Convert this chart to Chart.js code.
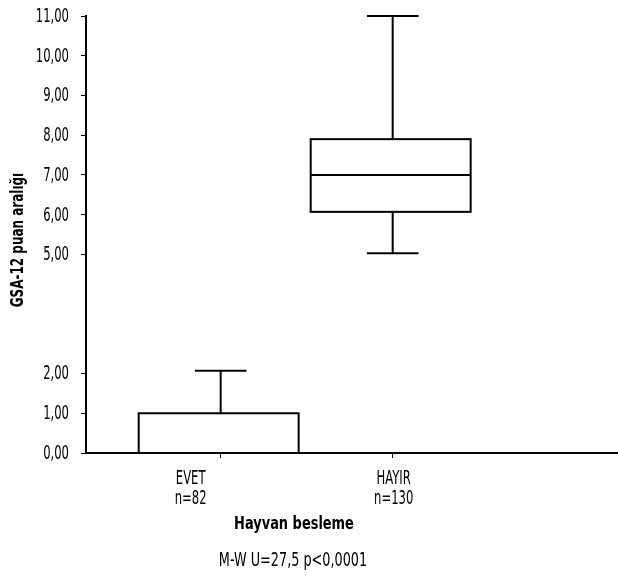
<!DOCTYPE html>
<html lang="tr">
<head>
<meta charset="UTF-8">
<title>GSA-12 puan aralığı</title>
<script src="https://cdn.jsdelivr.net/npm/chart.js"></script>
<style>
  body { margin: 0; background: #fff; }
</style>
</head>
<body>
<canvas id="boxChart" width="618" height="577"></canvas>
<script>
// values
const groups = ['EVET', 'HAYIR'];
const groupN = ['n=82', 'n=130'];
const groupPos = [1, 2];
const whiskerLow = [0, 5.03];
const boxQ1 = [0, 6.07];
const boxMedian = [0, 7.0];
const boxQ3 = [1.0, 7.9];
const whiskerHigh = [2.07, 11.0];
const yTicks = [0, 1, 2, 5, 6, 7, 8, 9, 10, 11];
const xTitle = 'Hayvan besleme';
const yTitle = 'GSA-12 puan aralığı';
const note = 'M-W U=27,5 p<0,0001';

const FONT = '"DejaVu Sans Condensed", "DejaVu Sans", sans-serif';
const fmt = v => v.toFixed(2).replace('.', ',');

// the original uses a very narrow typeface, so squeeze text horizontally
function narrowText(ctx, text, x, y, squeeze) {
  ctx.save();
  ctx.translate(x, y);
  ctx.scale(squeeze, 1);
  ctx.fillText(text, 0, 0);
  ctx.restore();
}

// draws the boxes and whiskers through the chart scales
const boxPlot = {
  id: 'boxPlot',
  afterDatasetsDraw(chart) {
    const { ctx, scales: { x, y } } = chart;
    ctx.save();
    ctx.strokeStyle = '#000';
    ctx.lineWidth = 2;
    groupPos.forEach((pos, i) => {
      const cx = x.getPixelForValue(pos);
      const half = x.getPixelForValue(pos + 0.465) - cx;
      const cap = x.getPixelForValue(pos + 0.15) - cx;
      const yLow = y.getPixelForValue(whiskerLow[i]);
      const yQ1 = y.getPixelForValue(boxQ1[i]);
      const yMed = y.getPixelForValue(boxMedian[i]);
      const yQ3 = y.getPixelForValue(boxQ3[i]);
      const yHigh = y.getPixelForValue(whiskerHigh[i]);

      ctx.strokeRect(cx - half - 2, yQ3, half * 2, yQ1 - yQ3);
      ctx.beginPath();
      ctx.moveTo(cx - half - 2, yMed); ctx.lineTo(cx + half - 2, yMed);
      // upper whisker
      ctx.moveTo(cx, yQ3); ctx.lineTo(cx, yHigh);
      ctx.moveTo(cx - cap, yHigh); ctx.lineTo(cx + cap, yHigh);
      // lower whisker
      if (whiskerLow[i] < boxQ1[i]) {
        ctx.moveTo(cx, yQ1); ctx.lineTo(cx, yLow);
        ctx.moveTo(cx - cap, yLow); ctx.lineTo(cx + cap, yLow);
      }
      ctx.stroke();
    });
    ctx.restore();
  }
};

// tick labels, category labels, axis titles and the test note
const labels = {
  id: 'labels',
  afterDraw(chart) {
    const { ctx, chartArea, scales: { x, y } } = chart;
    ctx.save();
    ctx.fillStyle = '#000';

    // y tick labels
    ctx.font = '19px ' + FONT;
    ctx.textAlign = 'right';
    ctx.textBaseline = 'middle';
    yTicks.forEach(t => {
      narrowText(ctx, fmt(t), chartArea.left - 17, y.getPixelForValue(t) + 1, 0.68);
    });

    // categories
    const shift = [-30, 1];
    ctx.textAlign = 'center';
    ctx.textBaseline = 'alphabetic';
    groupPos.forEach((pos, i) => {
      const px = x.getPixelForValue(pos) + shift[i];
      narrowText(ctx, groups[i], px, 484, 0.68);
      narrowText(ctx, groupN[i], px, 504, 0.68);
    });

    ctx.font = 'bold 18px ' + FONT;
    narrowText(ctx, xTitle, 294, 529, 0.8);
    ctx.font = '19px ' + FONT;
    narrowText(ctx, note, 293, 566, 0.75);

    ctx.translate(18, 240);
    ctx.rotate(-Math.PI / 2);
    ctx.textBaseline = 'middle';
    ctx.font = 'bold 18px ' + FONT;
    narrowText(ctx, yTitle, 0, 0, 0.74);
    ctx.restore();
  }
};

new Chart(document.getElementById('boxChart'), {
  type: 'scatter',
  data: { datasets: [{ data: [] }] },
  options: {
    responsive: false,
    animation: false,
    devicePixelRatio: 1,
    layout: { padding: { top: 16, right: 0, left: 0, bottom: 0 } },
    plugins: { legend: { display: false }, tooltip: { enabled: false } },
    scales: {
      x: {
        type: 'linear',
        min: 0.217,
        max: 3.31,
        afterBuildTicks: s => { s.ticks = groupPos.map(v => ({ value: v })); },
        afterFit: s => { s.height = 124; },
        ticks: { display: false },
        grid: { drawOnChartArea: false, tickLength: 5, color: '#000' },
        border: { color: '#000', width: 2 }
      },
      y: {
        type: 'linear',
        min: 0,
        max: 11,
        afterBuildTicks: s => { s.ticks = yTicks.map(v => ({ value: v })); },
        afterFit: s => { s.width = 86; },
        ticks: { display: false },
        grid: { drawOnChartArea: false, tickLength: 5, color: '#000' },
        border: { color: '#000', width: 2 }
      }
    }
  },
  plugins: [boxPlot, labels]
});
</script>
</body>
</html>
